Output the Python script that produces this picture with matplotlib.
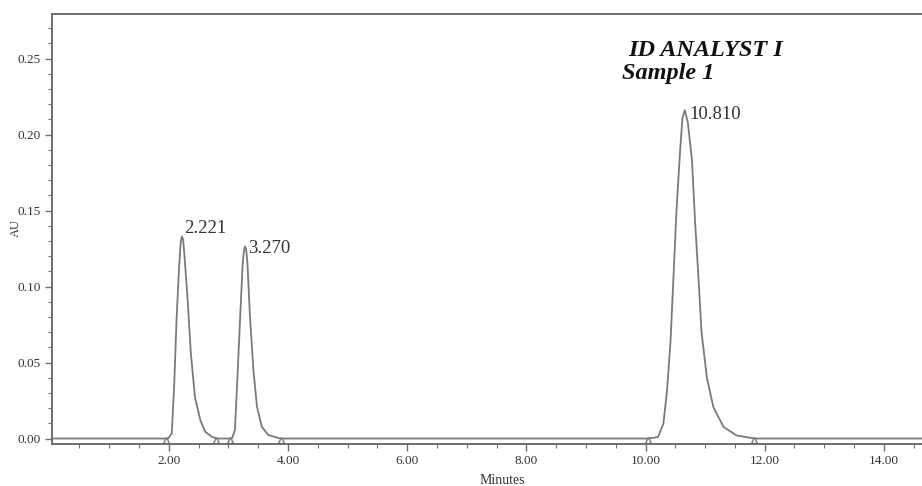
import matplotlib

matplotlib.use("Agg")
import matplotlib.pyplot as plt
from matplotlib.ticker import MultipleLocator, FormatStrFormatter
import numpy as np

# chromatogram (minutes, AU)
RUN_TIME = [0.0, 15.0]
RUN_AU = [0.0, 0.0]

PEAK1_TIME = [1.99, 2.05, 2.09, 2.13, 2.17, 2.20, 2.22, 2.24, 2.26, 2.32, 2.37, 2.44, 2.53, 2.61, 2.72, 2.81]
PEAK1_AU = [0.0, 0.0034, 0.0343, 0.078, 0.111, 0.129, 0.133, 0.131, 0.122, 0.089, 0.056, 0.027, 0.012, 0.0045, 0.0012, 0.0]

PEAK2_TIME = [3.06, 3.11, 3.15, 3.20, 3.24, 3.26, 3.28, 3.30, 3.32, 3.36, 3.42, 3.48, 3.56, 3.67, 3.87]
PEAK2_AU = [0.0, 0.0056, 0.0385, 0.082, 0.115, 0.123, 0.1264, 0.124, 0.115, 0.082, 0.045, 0.021, 0.0078, 0.0023, 0.0]

PEAK3_TIME = [10.05, 10.21, 10.30, 10.36, 10.42, 10.47, 10.52, 10.58, 10.62, 10.66, 10.71,
              10.78, 10.83, 10.89, 10.94, 11.03, 11.14, 11.31, 11.53, 11.83]
PEAK3_AU = [0.0, 0.001, 0.0097, 0.031, 0.064, 0.107, 0.150, 0.189, 0.211, 0.216, 0.208,
            0.183, 0.144, 0.105, 0.070, 0.040, 0.0205, 0.0076, 0.002, 0.0]

PEAK_LABELS = ["2.221", "3.270", "10.810"]
LABEL_TIME = [2.26, 3.33, 10.74]
LABEL_AU = [0.138, 0.1247, 0.2135]

# integration start / end marks
MARK_TIME = [1.96, 2.80, 3.03, 3.89, 10.05, 11.82]

TITLE_LINES = ["ID ANALYST I", "Sample 1"]

LINE = "#7a7a7a"
AXIS = "#6e6e6e"
TEXT = "#333333"
SERIF = "Liberation Serif"

plt.rcParams.update({"font.family": SERIF})

time = np.concatenate([RUN_TIME[:1], PEAK1_TIME, PEAK2_TIME, PEAK3_TIME, RUN_TIME[1:]])
au = np.concatenate([RUN_AU[:1], PEAK1_AU, PEAK2_AU, PEAK3_AU, RUN_AU[1:]])

W, H = 922, 486
fig = plt.figure(figsize=(W / 100, H / 100), dpi=100)
left, right, top, bottom = 52, 922, 14, 444
ax = fig.add_axes([left / W, 1 - bottom / H, (right - left) / W, (bottom - top) / H])

ax.plot(time, au, color=LINE, linewidth=1.3, solid_joinstyle="round")
ax.plot(MARK_TIME, np.zeros(len(MARK_TIME)) - 0.0012, linestyle="none", marker="^", markersize=4.5,
        markerfacecolor="white", markeredgecolor=LINE, markeredgewidth=1.0, clip_on=False)

for label, t, v in zip(PEAK_LABELS, LABEL_TIME, LABEL_AU):
    ax.text(t, v, label, fontsize=13.5, color=TEXT, ha="left", va="center")

ax.set_xlim(0.04, 14.64)
ax.set_ylim(-0.0036, 0.2793)

ax.xaxis.set_major_locator(MultipleLocator(2))
ax.xaxis.set_minor_locator(MultipleLocator(0.5))
ax.xaxis.set_major_formatter(FormatStrFormatter("%.2f"))
ax.yaxis.set_major_locator(MultipleLocator(0.05))
ax.yaxis.set_minor_locator(MultipleLocator(0.01))
ax.yaxis.set_major_formatter(FormatStrFormatter("%.2f"))

ax.tick_params(which="major", direction="out", length=5, width=1.0, color=AXIS,
               labelsize=9.5, labelcolor=TEXT, pad=3)
ax.tick_params(which="minor", direction="out", length=3, width=0.8, color=AXIS)
ax.spines["right"].set_visible(False)
for side in ("left", "top", "bottom"):
    ax.spines[side].set_color(AXIS)
    ax.spines[side].set_linewidth(1.4)

fig.text(628 / W, 1 - 50 / H, TITLE_LINES[0], fontsize=17.5, fontweight="bold", fontstyle="italic",
         color="#111111", ha="left", va="center")
fig.text(622 / W, 1 - 73 / H, TITLE_LINES[1], fontsize=17.5, fontweight="bold", fontstyle="italic",
         color="#111111", ha="left", va="center")

fig.text(16 / W, 1 - 228 / H, "AU", fontsize=9, color=TEXT, rotation=90, ha="center", va="center")
fig.text(502 / W, 1 - 480 / H, "Minutes", fontsize=10, color=TEXT, ha="center", va="center")

fig.savefig("out.png", dpi=100, facecolor="white")
